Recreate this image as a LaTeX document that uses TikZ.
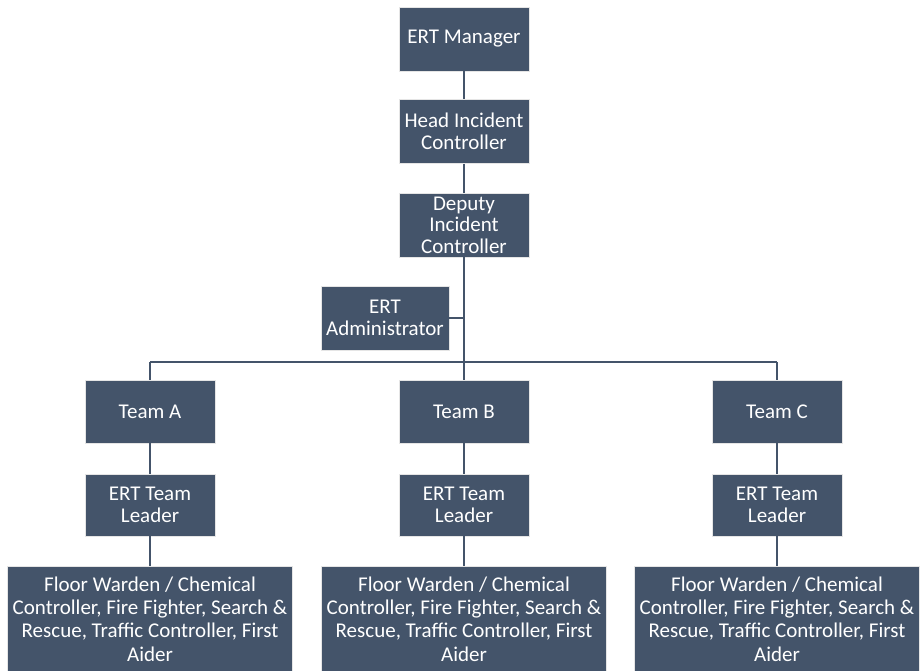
\documentclass[tikz,border=0pt]{standalone}
\usepackage{fontspec}
\setmainfont{Carlito}
\definecolor{slate}{HTML}{44546A}

\begin{document}
\begin{tikzpicture}[x=1pt,y=-1pt,
    role/.style={fill=slate,draw=gray!20,line width=0.8pt,text=white,align=center,
        font={\fontsize{21}{21.5}\selectfont},inner sep=0pt,
        minimum width=130pt,minimum height=64pt},
    crew/.style={role,minimum width=285pt,minimum height=106pt,
        font={\fontsize{21}{23.3}\selectfont}},
    link/.style={draw=slate,line width=2.6pt}]
\useasboundingbox (0,0) rectangle (921,671);

\node[role] (mgr) at (464,39) {ERT Manager};
\node[role] (head) at (464,131.5) {Head Incident\\Controller};
\node[role] (deputy) at (464,225) {Deputy\\Incident\\Controller};
\node[role,minimum width=128pt] (admin) at (385,318) {ERT\\Administrator};

\coordinate (busL) at (150,362);
\coordinate (busR) at (777,362);

\node[role,minimum height=63pt] (teamA) at (150,411.5) {Team A};
\node[role,minimum height=63pt] (teamB) at (464,411.5) {Team B};
\node[role,minimum height=63pt] (teamC) at (777,411.5) {Team C};

\node[role,minimum height=62pt] (leadA) at (150,505) {ERT Team\\Leader};
\node[role,minimum height=62pt] (leadB) at (464,505) {ERT Team\\Leader};
\node[role,minimum height=62pt] (leadC) at (777,505) {ERT Team\\Leader};

\node[crew] (crewA) at (150,619) {Floor Warden / Chemical\\Controller, Fire Fighter, Search \&\\Rescue, Traffic Controller, First\\Aider};
\node[crew] (crewB) at (464,619) {Floor Warden / Chemical\\Controller, Fire Fighter, Search \&\\Rescue, Traffic Controller, First\\Aider};
\node[crew] (crewC) at (777,619) {Floor Warden / Chemical\\Controller, Fire Fighter, Search \&\\Rescue, Traffic Controller, First\\Aider};

\draw[link] (mgr) -- (head);
\draw[link] (head) -- (deputy);
\draw[link] (deputy.south) -- (deputy.south |- busL);
\draw[link] (admin.east) -- (admin.east -| deputy.south);
\draw[link] (busL) -- (busR);
\foreach \t in {A,B,C}{
  \draw[link] (team\t.north) -- (team\t.north |- busL);
  \draw[link] (team\t) -- (lead\t);
  \draw[link] (lead\t) -- (crew\t);
}

\end{tikzpicture}
\end{document}
